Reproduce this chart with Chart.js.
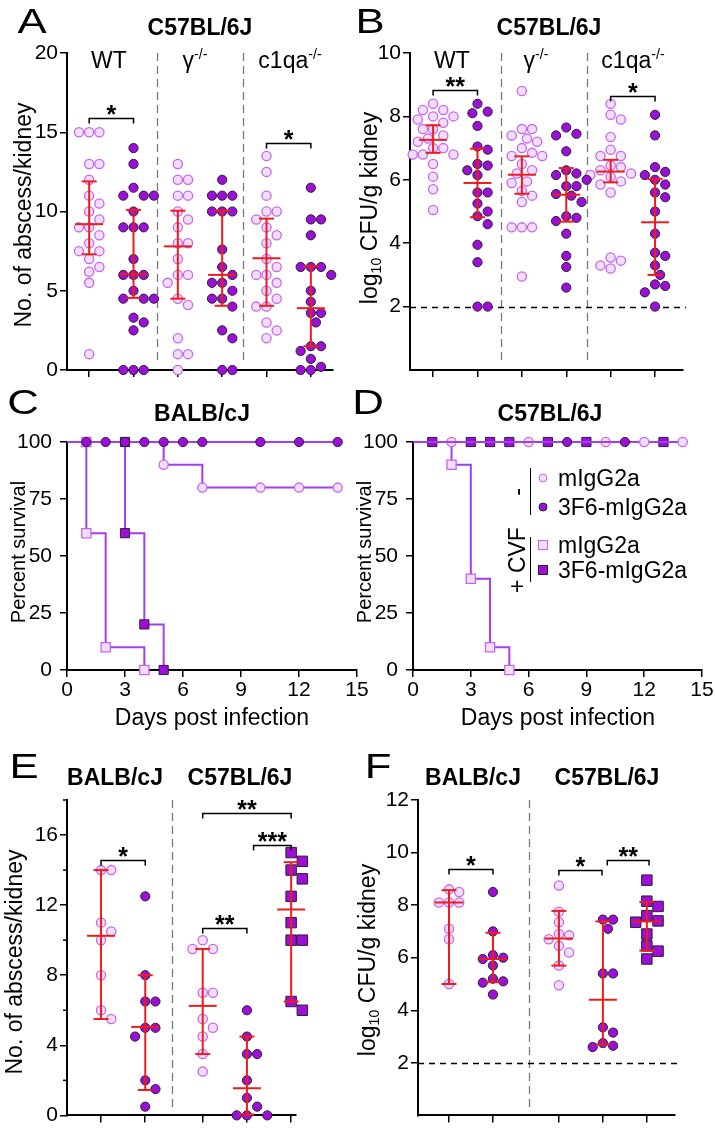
<!DOCTYPE html>
<html lang="en">
<head>
<meta charset="utf-8">
<title>Figure</title>
<script src="https://cdn.jsdelivr.net/npm/chart.js@4.4.1/dist/chart.umd.min.js"></script>
<style>
  body { margin: 0; background: #fff; }
  #fig { position: relative; width: 715px; height: 1130px; overflow: hidden; font-family: "Liberation Sans", Arial, sans-serif; color: #000; }
  #fig canvas { position: absolute; }
  .txt { position: absolute; transform: translate(-50%, -50%); white-space: nowrap; line-height: 1; }
  .rot { transform: translate(-50%, -50%) rotate(-90deg); }
  .bold { font-weight: bold; }
  .letter { font-size: 35px; transform: translate(-50%, -50%) scaleX(1.25); }
  .mk { position: absolute; transform: translate(-50%, -50%); box-sizing: border-box; }
  .bar { position: absolute; width: 0; border-left: 1.5px solid #000; }
  sup { font-size: 0.62em; vertical-align: 0.6em; line-height: 0; }
  sub { font-size: 0.62em; vertical-align: -0.3em; line-height: 0; }
</style>
</head>
<body>
<div id="fig">
  <canvas id="chartA" width="357" height="400" style="left:0;top:0"></canvas>
  <canvas id="chartB" width="358" height="400" style="left:357px;top:0"></canvas>
  <canvas id="chartC" width="385" height="330" style="left:0;top:380px"></canvas>
  <canvas id="chartD" width="358" height="330" style="left:357px;top:380px"></canvas>
  <canvas id="chartE" width="357" height="390" style="left:0;top:740px"></canvas>
  <canvas id="chartF" width="358" height="390" style="left:357px;top:740px"></canvas>

  <!-- A -->
  <div class="txt letter" style="left:32px;top:20px">A</div>
  <div class="txt bold" style="left:200px;top:27px;font-size:23px">C57BL/6J</div>
  <div class="txt" style="left:109px;top:60px;font-size:23px">WT</div>
  <div class="txt" style="left:195px;top:60px;font-size:23px">γ<sup>-/-</sup></div>
  <div class="txt" style="left:290px;top:60px;font-size:23px">c1qa<sup>-/-</sup></div>
  <div class="txt rot" style="left:23px;top:215px;font-size:23px">No. of abscess/kidney</div>

  <!-- B -->
  <div class="txt letter" style="left:370px;top:20px">B</div>
  <div class="txt bold" style="left:549px;top:27px;font-size:23px">C57BL/6J</div>
  <div class="txt" style="left:452px;top:60px;font-size:23px">WT</div>
  <div class="txt" style="left:536px;top:60px;font-size:23px">γ<sup>-/-</sup></div>
  <div class="txt" style="left:633px;top:60px;font-size:23px">c1qa<sup>-/-</sup></div>
  <div class="txt rot" style="left:369px;top:208px;font-size:23px">log<sub>10</sub> CFU/g kidney</div>

  <!-- C -->
  <div class="txt letter" style="left:23px;top:401px">C</div>
  <div class="txt bold" style="left:202px;top:413px;font-size:23px">BALB/cJ</div>
  <div class="txt rot" style="left:18px;top:552px;font-size:20px">Percent survival</div>
  <div class="txt" style="left:212px;top:717px;font-size:23px">Days post infection</div>

  <!-- D -->
  <div class="txt letter" style="left:368px;top:401px">D</div>
  <div class="txt bold" style="left:550px;top:413px;font-size:23px">C57BL/6J</div>
  <div class="txt rot" style="left:364px;top:552px;font-size:20px">Percent survival</div>
  <div class="txt" style="left:558px;top:717px;font-size:23px">Days post infection</div>
  <!-- légende D -->
  <div class="txt rot" style="left:517px;top:492px;font-size:23px">-</div>
  <div class="txt rot" style="left:517px;top:560px;font-size:23px">+ CVF</div>
  <div class="bar" style="left:530px;top:468px;height:47px"></div>
  <div class="bar" style="left:530px;top:537px;height:45px"></div>
  <span class="mk" style="left:543px;top:478px;width:9px;height:9px;border-radius:50%;background:#f1defb;border:1.3px solid #c865ef"></span>
  <span class="mk" style="left:543px;top:507px;width:9px;height:9px;border-radius:50%;background:#9c0fd8;border:1px solid #2d1d35"></span>
  <span class="mk" style="left:543px;top:545px;width:10px;height:10px;background:#f1defb;border:1.3px solid #c865ef"></span>
  <span class="mk" style="left:543px;top:570px;width:10px;height:10px;background:#9c0fd8;border:1px solid #2d1d35"></span>
  <div class="txt" style="left:558px;top:478px;font-size:23px;transform:translate(0,-50%)">mIgG2a</div>
  <div class="txt" style="left:558px;top:507px;font-size:23px;transform:translate(0,-50%)">3F6-mIgG2a</div>
  <div class="txt" style="left:558px;top:545px;font-size:23px;transform:translate(0,-50%)">mIgG2a</div>
  <div class="txt" style="left:558px;top:570px;font-size:23px;transform:translate(0,-50%)">3F6-mIgG2a</div>

  <!-- E -->
  <div class="txt letter" style="left:24px;top:765px">E</div>
  <div class="txt bold" style="left:115px;top:777px;font-size:23px">BALB/cJ</div>
  <div class="txt bold" style="left:240px;top:777px;font-size:23px">C57BL/6J</div>
  <div class="txt rot" style="left:14px;top:962px;font-size:23px">No. of abscess/kidney</div>

  <!-- F -->
  <div class="txt letter" style="left:378px;top:765px">F</div>
  <div class="txt bold" style="left:473px;top:777px;font-size:23px">BALB/cJ</div>
  <div class="txt bold" style="left:607px;top:777px;font-size:23px">C57BL/6J</div>
  <div class="txt rot" style="left:367px;top:960px;font-size:23px">log<sub>10</sub> CFU/g kidney</div>
</div>

<script>
/**
 * Figure 6 panneaux - points par souris, survie, abcès
 */

// ---- A : abcès / rein, C57BL/6J ----
const aGroupX = [1, 2, 3, 4, 5, 6];
const aWtMig = [15, 15, 15, 13, 13, 12, 11, 10.5, 10, 9.5, 9, 9, 8.5, 8, 7.5, 7.5, 7, 6.5, 6.2, 5.5, 1];
const aWt3F6 = [14, 13, 11.5, 11, 11, 11, 10, 9, 9, 9, 7, 6, 6, 6, 5, 4.5, 4.5, 4.5, 3.3, 3, 2.5, 0, 0, 0];
const aGammaMig = [13, 12, 12, 11, 11, 10, 9.5, 9, 8, 8, 7, 6, 6, 5.5, 4.5, 4.1, 2, 1, 1, 0];
const aGamma3F6 = [12, 11, 11, 11, 10, 10, 10, 7.6, 6.5, 6, 5.5, 5.5, 5, 4.5, 4.5, 4, 2.5, 2, 0, 0];
const aC1qaMig = [13.5, 12.5, 11, 10, 10, 9.5, 9, 8.5, 8, 7, 6.5, 6, 6, 5.5, 5, 4.5, 4, 4, 3, 2.5, 2];
const aC1qa3F6 = [11.5, 9.5, 9.5, 8.5, 6.5, 6.5, 6.5, 6, 5, 4.3, 3.6, 3.6, 3, 1.5, 1.5, 1.2, 0.7, 0.2, 0, 0];
const aMedian = [9.2, 6.05, 7.8, 6.0, 7.05, 3.9];
const aLow = [7.3, 4.55, 4.5, 4.05, 4.05, 1.5];
const aHigh = [11.9, 10.1, 10.05, 10.05, 9.55, 6.55];
const aYTicks = [0, 5, 10, 15, 20];
const aBrackets = [[1, 2, 15.9, '*'], [5, 6, 14.3, '*']];

// ---- B : log10 UFC / g rein, C57BL/6J ----
const bGroupX = [1, 2, 3, 4, 5, 6];
const bWtMig = [8.4, 8.2, 8.2, 8.0, 8.0, 7.9, 7.8, 7.6, 7.6, 7.4, 7.3, 7.2, 7.0, 7.0, 6.8, 6.8, 6.8, 6.5, 6.1, 5.7, 5.05];
const bWt3F6 = [8.4, 8.15, 8.1, 7.7, 7.05, 6.95, 6.5, 6.45, 6.3, 6.15, 5.6, 5.6, 5.25, 5.0, 4.85, 4.6, 3.95, 3.4, 2, 2];
const bGammaMig = [8.8, 7.6, 7.6, 7.4, 7.3, 7.2, 7.0, 6.85, 6.75, 6.75, 6.5, 6.3, 6.2, 5.95, 5.9, 5.65, 5.5, 5.3, 4.5, 4.5, 4.5, 2.95];
const bGamma3F6 = [7.65, 7.45, 7.4, 6.9, 6.3, 6.2, 6.15, 6.0, 5.8, 5.8, 5.55, 5.5, 5.3, 4.85, 4.8, 4.7, 4.3, 3.6, 3.25, 2.6];
const bC1qaMig = [8.4, 8.05, 7.9, 7.35, 6.95, 6.75, 6.75, 6.45, 6.4, 6.3, 6.2, 6.15, 6.1, 5.95, 5.85, 5.6, 3.55, 3.45, 3.3, 3.2];
const bC1qa3F6 = [8.05, 7.4, 6.4, 6.25, 6.15, 6.0, 5.85, 5.6, 5.45, 5.0, 4.3, 3.7, 3.6, 3.3, 3.0, 2.7, 2.65, 2.45, 2.0];
const bMedian = [7.26, 5.9, 6.16, 5.53, 6.26, 4.66];
const bLow = [6.85, 4.82, 5.56, 4.68, 5.92, 3.0];
const bHigh = [7.72, 6.98, 6.74, 6.37, 6.63, 6.02];
const bYTicks = [2, 4, 6, 8, 10];
const bBrackets = [[1, 2, 8.82, '**'], [5, 6, 8.63, '*']];
const bDetectionLimit = 2;

// ---- C : survie BALB/cJ ----
const cMigDays = [0, 5, 7, 10, 12, 14];
const cMigSurv = [100, 90, 80, 80, 80, 80];
const c3F6Days = [0, 1, 2, 3, 4, 5, 6, 7, 10, 12, 14];
const c3F6Surv = [100, 100, 100, 100, 100, 100, 100, 100, 100, 100, 100];
const cCvfMigDays = [0, 1, 1, 2, 4];
const cCvfMigSurv = [100, 100, 60, 10, 0];
const cCvf3F6Days = [0, 3, 3, 4, 5];
const cCvf3F6Surv = [100, 100, 60, 20, 0];

// ---- D : survie C57BL/6J ----
const dMigDays = [0, 2, 6, 10, 12, 14];
const dMigSurv = [100, 100, 100, 100, 100, 100];
const d3F6Days = [0, 8, 11];
const d3F6Surv = [100, 100, 100];
const dCvfMigDays = [0, 2, 3, 4, 5];
const dCvfMigSurv = [100, 90, 40, 10, 0];
const dCvf3F6Days = [0, 1, 3, 4, 5, 7, 9, 13];
const dCvf3F6Surv = [100, 100, 100, 100, 100, 100, 100, 100];

// ---- E : abcès / rein, BALB/cJ et C57BL/6J (+ CVF) ----
const eGroupX = [1, 2, 3.3, 4.3, 5.3];
const eBalbMig = [14, 14, 11, 10.5, 10, 8, 6, 5.5];
const eBalb3F6 = [12.5, 8, 6.5, 6.5, 5, 5, 4.5, 2, 1.5, 0.5];
const eB6Mig = [10, 9.5, 9.5, 7, 7, 5.5, 5, 4.5, 3.5, 2.5];
const eB63F6 = [6, 4.5, 3.5, 3.5, 2, 1, 0.5, 0, 0, 0];
const eB6Cvf3F6 = [15, 14.5, 14, 13.5, 12.5, 11, 10, 10, 6.5, 6];
const eMedian = [10.25, 5.05, 6.25, 1.55, 11.75];
const eLow = [5.5, 1.45, 3.5, 0.05, 6.5];
const eHigh = [14, 8, 9.5, 4.5, 14.45];
const eYTicks = [0, 4, 8, 12, 16];
const eMinorTicks = [2, 6, 10, 14, 18];
const eBrackets = [[1, 2, 14.6, '*'], [3.3, 4.3, 10.7, '**'], [4.45, 5.3, 15.45, '***'], [3.3, 5.3, 17.25, '**']];

// ---- F : log10 UFC / g rein ----
const fGroupX = [1, 2, 3.5, 4.5, 5.5];
const fBalbMig = [8.6, 8.5, 8.1, 8.1, 8.1, 7.1, 6.7, 5.0];
const fBalb3F6 = [8.5, 7.0, 6.1, 6.0, 5.95, 5.7, 5.2, 5.1, 5.05, 4.6];
const fB6Mig = [8.75, 7.75, 7.35, 6.9, 6.85, 6.7, 6.45, 6.2, 5.7, 4.95];
const fB63F6 = [7.45, 7.45, 7.1, 5.4, 5.4, 3.35, 3.15, 2.75, 2.65, 2.6];
const fB6Cvf3F6 = [8.95, 8.15, 7.95, 7.6, 7.4, 7.35, 6.9, 6.45, 6.25, 5.95];
const fMedian = [8.1, 5.95, 6.73, 4.4, 7.38];
const fLow = [5.0, 5.07, 5.7, 2.7, 6.27];
const fHigh = [8.57, 6.95, 7.78, 7.38, 8.12];
const fYTicks = [2, 4, 6, 8, 10, 12];
const fBrackets = [[1, 2, 9.36, '*'], [3.5, 4.48, 9.32, '*'], [4.6, 5.55, 9.7, '**']];
const fDetectionLimit = 2;

const FONT = '"Liberation Sans", Arial, sans-serif';
const LIGHT = { fill: '#f1defb', line: '#c865ef' };
const DARK = { fill: '#9c0fd8', line: '#2d1d35' };
const RED = '#ee1c1c';
const VIOLET = '#a23ef0';

// dispersion des points (essaim) calculée en pixels
function swarm(values, center, xs, ys, half) {
    const cx = xs.getPixelForValue(center);
    const d = 2 * half;
    const placed = [];
    return values.slice().sort((a, b) => b - a).map((v) => {
        const py = ys.getPixelForValue(v);
        let off = 0;
        for (let k = 0; k < 80; k++) {
            off = k === 0 ? 0 : (k % 2 ? 1 : -1) * Math.ceil(k / 2) * d / 2;
            if (placed.every(p => Math.hypot(p.x - off, p.y - py) >= d)) break;
        }
        placed.push({ x: off, y: py });
        return { x: xs.getValueForPixel(cx + off), y: v };
    });
}

function line(ctx, x1, y1, x2, y2) {
    ctx.beginPath();
    ctx.moveTo(x1, y1);
    ctx.lineTo(x2, y2);
    ctx.stroke();
}

// tirets, barres d'erreur, crochets de significativité
function extras(p) {
    return {
        id: 'extras',
        beforeDatasetsDraw(chart) {
            const { ctx, chartArea: area, scales: { x, y } } = chart;
            ctx.save();
            ctx.lineWidth = 1.3;
            ctx.strokeStyle = '#7a7a7a';
            ctx.setLineDash([8, 5]);
            (p.separators || []).forEach((v) => {
                const px = Math.round(x.getPixelForValue(v)) + 0.5;
                line(ctx, px, area.top, px, area.bottom - 7);
            });
            if (p.detectionLimit !== undefined) {
                const py = Math.round(y.getPixelForValue(p.detectionLimit)) + 0.5;
                ctx.strokeStyle = '#000';
                ctx.setLineDash([6, 5]);
                line(ctx, area.left, py, area.right + 3, py);
            }
            ctx.restore();
        },
        afterDatasetsDraw(chart) {
            const { ctx, chartArea: area, scales: { x, y } } = chart;
            ctx.save();
            ctx.strokeStyle = '#000';
            ctx.lineWidth = 1.5;
            (p.minorTicks || []).forEach((v) => {
                const py = y.getPixelForValue(v);
                line(ctx, area.left - 4, py, area.left, py);
            });

            ctx.strokeStyle = RED;
            ctx.lineWidth = 2;
            p.groupX.forEach((gx, i) => {
                const cx = x.getPixelForValue(gx);
                const m = y.getPixelForValue(p.median[i]);
                const lo = y.getPixelForValue(p.low[i]);
                const hi = y.getPixelForValue(p.high[i]);
                line(ctx, cx, lo, cx, hi);
                line(ctx, cx - 7.5, lo, cx + 7.5, lo);
                line(ctx, cx - 7.5, hi, cx + 7.5, hi);
                line(ctx, cx - 14, m, cx + 14, m);
            });

            ctx.strokeStyle = '#000';
            ctx.fillStyle = '#000';
            ctx.lineWidth = 1.5;
            ctx.font = 'bold 25px ' + FONT;
            ctx.textAlign = 'center';
            ctx.textBaseline = 'alphabetic';
            p.brackets.forEach(([x1, x2, v, stars]) => {
                const a = x.getPixelForValue(x1);
                const b = x.getPixelForValue(x2);
                const py = Math.round(y.getPixelForValue(v)) + 0.5;
                ctx.beginPath();
                ctx.moveTo(a, py + 5);
                ctx.lineTo(a, py);
                ctx.lineTo(b, py);
                ctx.lineTo(b, py + 5);
                ctx.stroke();
                ctx.fillText(stars, (a + b) / 2, py + 4);
            });
            ctx.restore();
        }
    };
}

function axisStyle(tickPadding) {
    return {
        ticks: { font: { family: FONT, size: 21 }, color: '#000', padding: tickPadding },
        grid: { drawOnChartArea: false, tickLength: 7, color: '#000', lineWidth: 1.5 },
        border: { color: '#000', width: 2 }
    };
}

function dotPlot(id, p) {
    const chart = new Chart(document.getElementById(id), {
        type: 'scatter',
        data: {
            datasets: p.groups.map(g => ({
                data: [],
                pointStyle: g.shape,
                pointRadius: g.radius,
                backgroundColor: g.style.fill,
                borderColor: g.style.line,
                borderWidth: g.style === LIGHT ? 1.3 : 1,
                clip: false
            }))
        },
        options: {
            responsive: false,
            animation: false,
            events: [],
            layout: { padding: p.padding },
            plugins: { legend: { display: false }, tooltip: { enabled: false } },
            scales: {
                x: {
                    ...axisStyle(2),
                    type: 'linear',
                    min: p.xMin,
                    max: p.xMax,
                    afterBuildTicks: (s) => { s.ticks = p.groupX.map(v => ({ value: v })); },
                    ticks: { display: false },
                    afterFit: (s) => { s.height = p.xAxisHeight; }
                },
                y: {
                    ...axisStyle(2),
                    min: 0,
                    max: p.yMax,
                    afterBuildTicks: (s) => { s.ticks = p.yTicks.map(v => ({ value: v })); },
                    afterFit: (s) => { s.width = p.yAxisWidth; }
                }
            }
        },
        plugins: [extras(p)]
    });

    p.groups.forEach((g, i) => {
        chart.data.datasets[i].data = swarm(g.values, p.groupX[i], chart.scales.x, chart.scales.y, g.half);
    });
    chart.update('none');
    return chart;
}

function survivalPlot(id, p) {
    return new Chart(document.getElementById(id), {
        type: 'line',
        data: {
            datasets: p.curves.map(c => ({
                data: c.days.map((d, i) => ({ x: d, y: c.surv[i] })),
                stepped: true,
                borderColor: VIOLET,
                borderWidth: 2,
                fill: false,
                pointStyle: c.shape,
                pointRadius: c.days.map(d => (d === 0 ? 0 : c.radius)),
                pointBackgroundColor: c.style.fill,
                pointBorderColor: c.style.line,
                pointBorderWidth: c.style === LIGHT ? 1.3 : 1,
                clip: false
            }))
        },
        options: {
            responsive: false,
            animation: false,
            events: [],
            layout: { padding: p.padding },
            plugins: { legend: { display: false }, tooltip: { enabled: false } },
            scales: {
                x: {
                    ...axisStyle(1),
                    type: 'linear',
                    min: 0,
                    max: 15,
                    ticks: { stepSize: 3, font: { family: FONT, size: 21 }, color: '#000', padding: 1, maxRotation: 0 },
                    afterFit: (s) => { s.height = 40; }
                },
                y: {
                    ...axisStyle(8),
                    min: 0,
                    max: 100,
                    ticks: { stepSize: 25, font: { family: FONT, size: 21 }, color: '#000', padding: 8 },
                    afterFit: (s) => { s.width = p.yAxisWidth; }
                }
            }
        }
    });
}

const circle = (values, style) => ({ values, style, shape: 'circle', radius: 4.6, half: 5.1 });
const square = (values, style) => ({ values, style, shape: 'rect', radius: 7.4, half: 5.6 });

dotPlot('chartA', {
    padding: { top: 53, right: 24, left: 0, bottom: 0 },
    yAxisWidth: 67, xAxisHeight: 30,
    xMin: 0.5, xMax: 6.5, yMax: 20, yTicks: aYTicks,
    groupX: aGroupX,
    groups: [circle(aWtMig, LIGHT), circle(aWt3F6, DARK), circle(aGammaMig, LIGHT),
        circle(aGamma3F6, DARK), circle(aC1qaMig, LIGHT), circle(aC1qa3F6, DARK)],
    median: aMedian, low: aLow, high: aHigh,
    brackets: aBrackets,
    separators: [2.53, 4.47]
});

dotPlot('chartB', {
    padding: { top: 53, right: 32, left: 0, bottom: 0 },
    yAxisWidth: 53, xAxisHeight: 30,
    xMin: 0.48, xMax: 6.63, yMax: 10, yTicks: bYTicks,
    groupX: bGroupX,
    groups: [circle(bWtMig, LIGHT), circle(bWt3F6, DARK), circle(bGammaMig, LIGHT),
        circle(bGamma3F6, DARK), circle(bC1qaMig, LIGHT), circle(bC1qa3F6, DARK)],
    median: bMedian, low: bLow, high: bHigh,
    brackets: bBrackets,
    separators: [2.53, 4.47],
    detectionLimit: bDetectionLimit
});

survivalPlot('chartC', {
    padding: { top: 62, right: 28, left: 0, bottom: 0 },
    yAxisWidth: 67,
    curves: [
        { days: c3F6Days, surv: c3F6Surv, shape: 'circle', radius: 4.6, style: DARK },
        { days: cMigDays, surv: cMigSurv, shape: 'circle', radius: 4.6, style: LIGHT },
        { days: cCvf3F6Days, surv: cCvf3F6Surv, shape: 'rect', radius: 6.5, style: DARK },
        { days: cCvfMigDays, surv: cCvfMigSurv, shape: 'rect', radius: 6.5, style: LIGHT }
    ]
});

survivalPlot('chartD', {
    padding: { top: 62, right: 13, left: 0, bottom: 0 },
    yAxisWidth: 56,
    curves: [
        { days: d3F6Days, surv: d3F6Surv, shape: 'circle', radius: 4.6, style: DARK },
        { days: dMigDays, surv: dMigSurv, shape: 'circle', radius: 4.6, style: LIGHT },
        { days: dCvf3F6Days, surv: dCvf3F6Surv, shape: 'rect', radius: 6.5, style: DARK },
        { days: dCvfMigDays, surv: dCvfMigSurv, shape: 'rect', radius: 6.5, style: LIGHT }
    ]
});

dotPlot('chartE', {
    padding: { top: 60, right: 61, left: 0, bottom: 0 },
    yAxisWidth: 67, xAxisHeight: 13,
    xMin: 0.23, xMax: 5.41, yMax: 18, yTicks: eYTicks,
    groupX: eGroupX,
    groups: [circle(eBalbMig, LIGHT), circle(eBalb3F6, DARK), circle(eB6Mig, LIGHT),
        circle(eB63F6, DARK), square(eB6Cvf3F6, DARK)],
    median: eMedian, low: eLow, high: eHigh,
    brackets: eBrackets,
    separators: [2.61],
    minorTicks: eMinorTicks
});

dotPlot('chartF', {
    padding: { top: 60, right: 40, left: 0, bottom: 0 },
    yAxisWidth: 61, xAxisHeight: 13,
    xMin: 0.295, xMax: 6.14, yMax: 12, yTicks: fYTicks,
    groupX: fGroupX,
    groups: [circle(fBalbMig, LIGHT), circle(fBalb3F6, DARK), circle(fB6Mig, LIGHT),
        circle(fB63F6, DARK), square(fB6Cvf3F6, DARK)],
    median: fMedian, low: fLow, high: fHigh,
    brackets: fBrackets,
    separators: [2.82],
    detectionLimit: fDetectionLimit
});
</script>
</body>
</html>
